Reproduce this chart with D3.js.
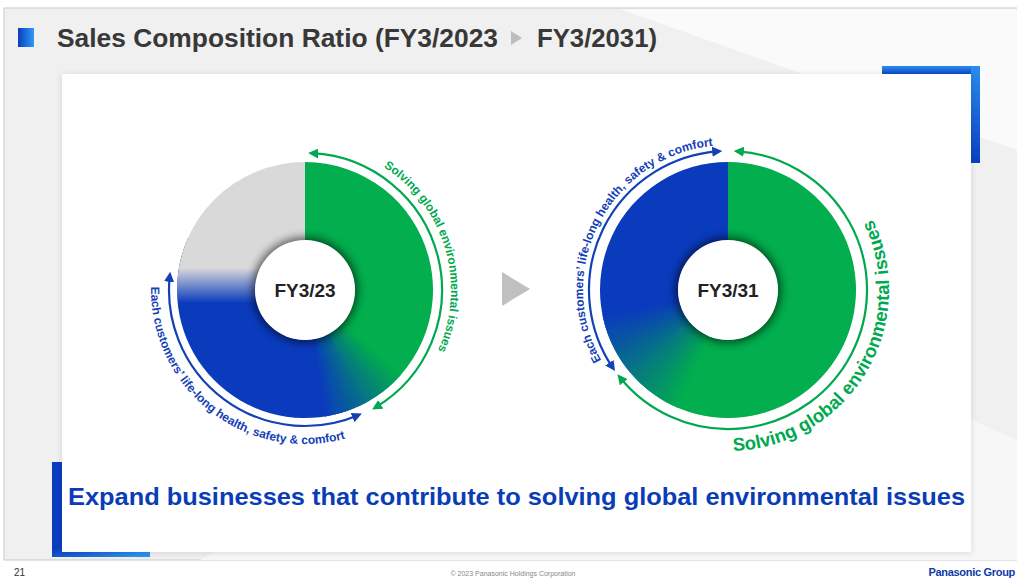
<!DOCTYPE html>
<html>
<head>
<meta charset="utf-8">
<script src="https://cdn.jsdelivr.net/npm/d3@7"></script>
<style>
  body { margin: 0; background: #fff; }
  svg { display: block; font-family: 'Liberation Sans', Arial, sans-serif; }
</style>
</head>
<body>
<div id="chart"></div>
<script>
// data
const categories = ['Solving global environmental issues', 'Each customers\u2019 life-long health, safety & comfort', 'Other'];
const periods = ['FY3/23', 'FY3/31'];
const fy23Values = [42, 33, 25];
const fy31Values = [64, 36, 0];
const titleParts = ['Sales Composition Ratio (FY3/2023', 'FY3/2031)'];
const message = 'Expand businesses that contribute to solving global environmental issues';

// style configs
const width = 1017;
const height = 580;
const colors = ['#02ae4d', '#0a3bbd', '#d9d9d9'];
const green = '#00a94f';
const blue = '#1340b6';
const outerR = 128;
const innerR = 50;

const svg = d3.select('#chart').append('svg')
  .attr('width', width)
  .attr('height', height);

const defs = svg.append('defs');

const blur = defs.append('filter').attr('id', 'blur')
  .attr('x', '-50%').attr('y', '-50%').attr('width', '200%').attr('height', '200%');
blur.append('feGaussianBlur').attr('stdDeviation', 4);

const shadow = defs.append('filter').attr('id', 'shadow')
  .attr('x', '-5%').attr('y', '-5%').attr('width', '110%').attr('height', '110%');
shadow.append('feDropShadow').attr('dx', 0).attr('dy', 1).attr('stdDeviation', 3)
  .attr('flood-color', '#000').attr('flood-opacity', 0.12);

const addGrad = (id, x1, y1, x2, y2, c1, c2) => {
  const g = defs.append('linearGradient').attr('id', id)
    .attr('x1', x1).attr('y1', y1).attr('x2', x2).attr('y2', y2);
  g.append('stop').attr('offset', 0).attr('stop-color', c1);
  g.append('stop').attr('offset', 1).attr('stop-color', c2);
  return g;
};
addGrad('sq', 0, 0, 1, 0, '#0a3cc0', '#2f9bf5');
addGrad('cornerTR', 0, 0, 0, 1, '#2a8df0', '#0a3fc0');
addGrad('cornerBL', 0, 0, 1, 0.3, '#0a3cc0', '#2a90f0');

[['arrowGreen', green], ['arrowBlue', blue]].forEach(([id, c]) => {
  defs.append('marker').attr('id', id)
    .attr('viewBox', '0 0 10 10').attr('refX', 6).attr('refY', 5)
    .attr('markerWidth', 4.6).attr('markerHeight', 4.6)
    .attr('orient', 'auto-start-reverse')
    .append('path').attr('d', 'M0,0L10,5L0,10z').attr('fill', c);
});

// slide background
svg.append('rect').attr('x', 4).attr('y', 8).attr('width', width).attr('height', 552)
  .attr('fill', '#f0f0f0').attr('stroke', '#c9c9c9');
svg.append('path').attr('d', 'M620,9 L1017,9 L1017,150 Z').attr('fill', '#fafafa');
svg.append('path').attr('d', 'M200,560 L700,300 L1017,440 L1017,560 Z').attr('fill', '#f7f7f7');
svg.append('rect').attr('x', 0).attr('y', 561).attr('width', width).attr('height', 19).attr('fill', '#fff');

// title
svg.append('rect').attr('x', 18).attr('y', 28).attr('width', 16).attr('height', 19).attr('fill', 'url(#sq)');
svg.append('text').attr('x', 57).attr('y', 47)
  .attr('font-size', 26).attr('font-weight', 'bold').attr('fill', '#383838')
  .attr('textLength', 441).attr('lengthAdjust', 'spacingAndGlyphs')
  .text(titleParts[0]);
svg.append('path').attr('d', 'M511,31 L522,38 L511,45 Z').attr('fill', '#bdbdbd');
svg.append('text').attr('x', 537).attr('y', 47)
  .attr('font-size', 26).attr('font-weight', 'bold').attr('fill', '#383838')
  .attr('textLength', 120).attr('lengthAdjust', 'spacingAndGlyphs')
  .text(titleParts[1]);

// corner accents + panel
svg.append('rect').attr('x', 882).attr('y', 66).attr('width', 98).attr('height', 9).attr('fill', 'url(#cornerTR)');
svg.append('rect').attr('x', 971).attr('y', 66).attr('width', 9).attr('height', 97).attr('fill', 'url(#cornerTR)');
svg.append('rect').attr('x', 52).attr('y', 462).attr('width', 10).attr('height', 95).attr('fill', '#0a3cc0');
svg.append('rect').attr('x', 52).attr('y', 549).attr('width', 98).attr('height', 8).attr('fill', 'url(#cornerBL)');
svg.append('rect').attr('x', 62).attr('y', 74).attr('width', 909).attr('height', 478)
  .attr('fill', '#fff').attr('filter', 'url(#shadow)');

const rad = a => a * Math.PI / 180;
const arc = d3.arc();

// compass degrees -> svg path arc
const arcPath = (r, a0, a1) => {
  const p = d3.path();
  p.arc(0, 0, r, rad(a0 - 90), rad(a1 - 90), a1 < a0);
  return p.toString();
};

const ring = (s, e) => arc({ innerRadius: innerR, outerRadius: outerR, startAngle: s, endAngle: e });

const drawDonut = (id, cx, cy, values, label, blends) => {
  const g = svg.append('g').attr('transform', `translate(${cx},${cy})`);
  const pie = d3.pie().sort(null).value(d => d)(values);

  g.selectAll('path.slice')
    .data(pie.filter(d => d.value > 0))
    .enter().append('path')
    .attr('class', 'slice')
    .attr('d', d => ring(d.startAngle, d.endAngle))
    .attr('fill', d => colors[d.index]);

  // soft colour hand-over between neighbouring slices
  blends.forEach(bl => {
    const i = bl.i;
    const b = pie[i].endAngle;
    if (bl.type === 'angle') {
      const c = d3.interpolateRgb(colors[i], colors[i + 1]);
      const n = 40;
      const w = rad(bl.w);
      const steps = d3.range(n).map(k => ({
        s: b - w + 2 * w * k / n,
        e: b - w + 2 * w * (k + 1) / n + 0.004,
        t: (k + 0.5) / n
      }));
      g.selectAll(null).data(steps).enter().append('path')
        .attr('d', d => ring(d.s, d.e))
        .attr('fill', d => c(d.t));
    } else {
      // vertical fade (next colour on top, fading out downwards)
      const gid = `fade-${id}-${i}`;
      const lg = defs.append('linearGradient').attr('id', gid)
        .attr('gradientUnits', 'userSpaceOnUse')
        .attr('x1', 0).attr('y1', bl.y0).attr('x2', 0).attr('y2', bl.y1);
      lg.append('stop').attr('offset', 0).attr('stop-color', colors[i + 1]).attr('stop-opacity', 1);
      lg.append('stop').attr('offset', 1).attr('stop-color', colors[i + 1]).attr('stop-opacity', 0);
      g.append('path').attr('d', ring(b, b + rad(24))).attr('fill', colors[i]);
      g.append('path').attr('d', ring(b - rad(28), b + rad(40))).attr('fill', `url(#${gid})`);
    }
  });

  g.append('circle').attr('r', innerR + 3).attr('fill', '#000').attr('opacity', 0.55).attr('filter', 'url(#blur)');
  g.append('circle').attr('r', innerR).attr('fill', '#fff');
  g.append('text').attr('text-anchor', 'middle').attr('dy', '0.36em')
    .attr('font-size', 19).attr('font-weight', 'bold').attr('fill', '#222')
    .text(label);
  return g;
};

const drawArrow = (g, r, a0, a1, color, marker) => {
  g.append('path').attr('d', arcPath(r, a0, a1))
    .attr('fill', 'none').attr('stroke', color).attr('stroke-width', 2.2)
    .attr('marker-start', `url(#${marker})`).attr('marker-end', `url(#${marker})`);
};

const drawArcText = (g, id, r, a0, a1, txt, color, size) => {
  g.append('path').attr('id', id).attr('d', arcPath(r, a0, a1)).attr('fill', 'none');
  g.append('text').attr('font-size', size).attr('font-weight', 'bold').attr('fill', color)
    .append('textPath').attr('href', `#${id}`)
    .attr('startOffset', '50%').attr('text-anchor', 'middle')
    .text(txt);
};

// FY3/23
const left = drawDonut('fy23', 305, 290, fy23Values, periods[0],
  [{ i: 0, type: 'angle', w: 20 }, { i: 1, type: 'vertical', y0: -22, y1: 13 }]);
drawArrow(left, 137, 3, 149, green, 'arrowGreen');
drawArrow(left, 136, 157, 276, blue, 'arrowBlue');
drawArcText(left, 'tEnv23', 146, 0, 147, categories[0], green, 12);
drawArcText(left, 'tHealth23', 154, 290, 146, categories[1], blue, 12);

// FY3/31
const right = drawDonut('fy31', 728, 290, fy31Values, periods[1], [{ i: 0, type: 'angle', w: 28 }]);
drawArrow(right, 139, 4, 231, green, 'arrowGreen');
drawArrow(right, 139, 356, 236, blue, 'arrowBlue');
drawArcText(right, 'tHealth31', 145, 230, 365, categories[1], blue, 12);
drawArcText(right, 'tEnv31', 161, 202, 40, categories[0], green, 18.5);

// arrow between the two years
svg.append('path').attr('d', 'M502,272 L530,289 L502,306 Z').attr('fill', '#c0c0c0');

// message
svg.append('text').attr('x', 68).attr('y', 505)
  .attr('font-size', 24).attr('font-weight', 'bold').attr('fill', '#0a3cb8')
  .attr('textLength', 897).attr('lengthAdjust', 'spacingAndGlyphs')
  .text(message);

// footer
svg.append('text').attr('x', 14).attr('y', 576).attr('font-size', 10).attr('fill', '#333').text('21');
svg.append('text').attr('x', 513).attr('y', 576).attr('text-anchor', 'middle')
  .attr('font-size', 7).attr('fill', '#888').text('\u00a9 2023 Panasonic Holdings Corporation');
svg.append('text').attr('x', 1015).attr('y', 576).attr('text-anchor', 'end')
  .attr('font-size', 11).attr('font-weight', 'bold').attr('fill', '#0b3aa8')
  .attr('letter-spacing', -0.3).text('Panasonic Group');
</script>
</body>
</html>
